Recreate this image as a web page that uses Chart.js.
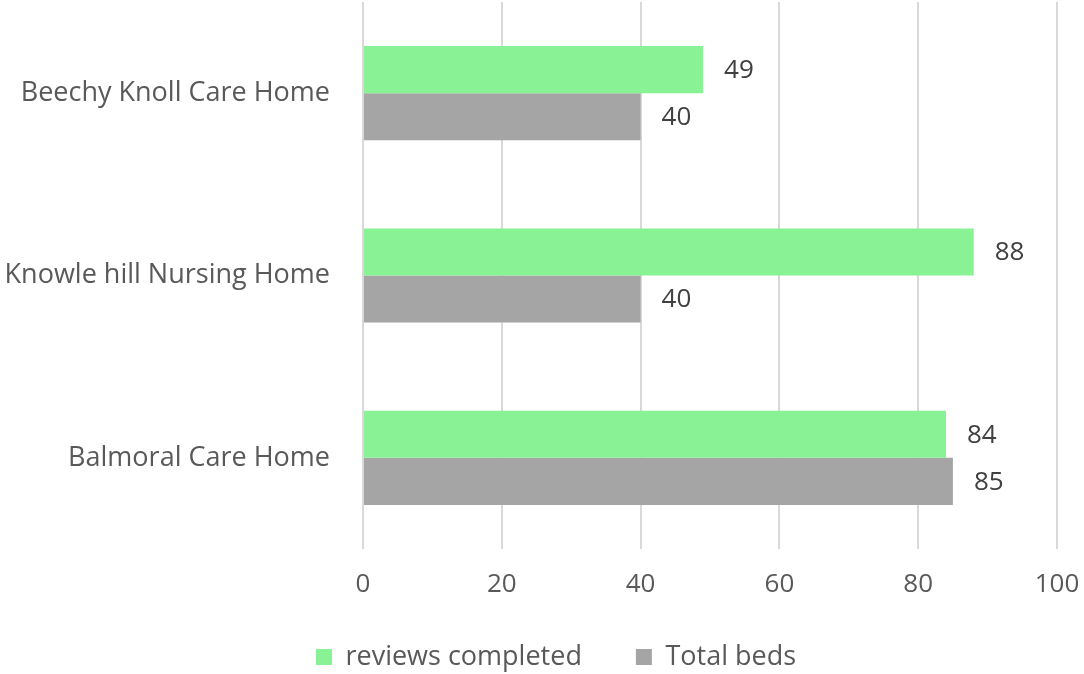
<!DOCTYPE html>
<html>
<head>
<meta charset="utf-8">
<script src="https://cdn.jsdelivr.net/npm/chart.js@4"></script>
<style>
html,body{margin:0;padding:0;background:#fff;overflow:hidden;}
#wrap{width:1084px;height:674px;position:relative;}
</style>
</head>
<body>
<div id="wrap"><canvas id="c" width="1084" height="674"></canvas></div>
<script>
const categories = ["Beechy Knoll Care Home", "Knowle hill Nursing Home", "Balmoral Care Home"];
const reviewsCompleted = [49, 88, 84];
const totalBeds = [40, 40, 85];
const xTicks = [0, 20, 40, 60, 80, 100];

const FONT = "'Open Sans', 'Liberation Sans', sans-serif";
const TEXT = "#595959";

const valueLabels = {
  id: 'valueLabels',
  afterDatasetsDraw(chart) {
    const ctx = chart.ctx;
    ctx.save();
    ctx.font = "26px " + FONT;
    ctx.fillStyle = "#404040";
    ctx.textBaseline = 'middle';
    ctx.textAlign = 'left';
    chart.data.datasets.forEach((ds, di) => {
      const meta = chart.getDatasetMeta(di);
      meta.data.forEach((bar, i) => {
        ctx.fillText(String(ds.data[i]), bar.x + 21, bar.y + 1);
      });
    });
    ctx.restore();
  }
};

new Chart(document.getElementById('c'), {
  type: 'bar',
  data: {
    labels: categories,
    datasets: [
      { label: 'reviews completed', data: reviewsCompleted, backgroundColor: '#88F294', categoryPercentage: 0.516, barPercentage: 1.0 },
      { label: 'Total beds', data: totalBeds, backgroundColor: '#A5A5A5', categoryPercentage: 0.516, barPercentage: 1.0 }
    ]
  },
  options: {
    indexAxis: 'y',
    responsive: false,
    animation: false,
    devicePixelRatio: 1,
    layout: { padding: { top: 0, right: 0, left: 28, bottom: -6.5 } },
    plugins: {
      legend: {
        position: 'bottom',
        labels: {
          font: { family: FONT, size: 27 },
          color: TEXT,
          boxWidth: 16,
          boxHeight: 16,
          padding: 54
        }
      },
      tooltip: { enabled: false }
    },
    scales: {
      x: {
        min: 0, max: 100,
        afterBuildTicks(axis) { axis.ticks = xTicks.map(v => ({ value: v })); },
        afterFit(axis) {
          axis.height = 40.5; axis.paddingRight = 27; axis.paddingLeft = 0;
          axis._computeLabelArea = function () { return undefined; };
        },
        grid: { color: '#D9D9D9', lineWidth: 2, drawTicks: false },
        border: { display: false },
        ticks: { font: { family: FONT, size: 26 }, color: TEXT, padding: 20 }
      },
      y: {
        afterFit(axis) {
          axis.width = 335; axis.paddingTop = 2; axis.paddingBottom = 0;
          axis._computeLabelArea = function () { return undefined; };
        },
        grid: { display: false, drawTicks: false },
        border: { display: false },
        ticks: { font: { family: FONT, size: 27 }, color: TEXT, padding: 33 }
      }
    }
  },
  plugins: [valueLabels]
});
</script>
</body>
</html>
